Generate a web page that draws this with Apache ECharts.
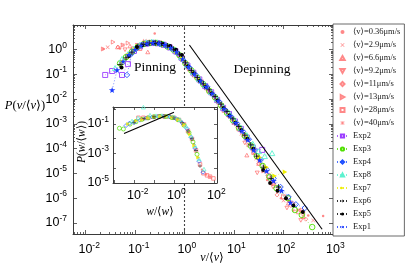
<!DOCTYPE html>
<html><head><meta charset="utf-8">
<script src="https://cdn.jsdelivr.net/npm/echarts@6/dist/echarts.min.js"></script>
<style>html,body{margin:0;padding:0;background:#fff}#c{width:415px;height:267px}</style>
</head><body><div id="c"></div>
<script>
// All values are decimal exponents (log10).
// ---- main panel: P(v/<v>) vs v/<v> ----
const xTicksMain = [-2, -1, 0, 1, 2, 3];
const yTicksMain = [-7, -6, -5, -4, -3, -2, -1, 0];
const xTicksInset = [-2, 0, 2];
const yTicksInset = [-5, -3, -1];

// red series <v>=...
const r036_x = [-1.64,-1.3,-1.0,-0.6,-0.4,-0.1,0.2,0.5,0.8,1.1,1.4,1.67,1.95,2.2,2.5,2.8];
const r036_y = [0.03,0.05,0.1,0.66,0.22,-0.25,-1.0,-1.7,-2.45,-3.2,-4.2,-5.27,-6.0,-6.5,-6.7,-6.72];
const r29_x = [-1.55,-1.25,-0.95,-0.8,-0.55,-0.3,-0.05,0.25,0.55,0.85,1.15,1.45,1.75,2.0,2.3,2.6];
const r29_y = [0.1,0.19,0.2,0.36,0.3,0.05,-0.4,-1.1,-1.8,-2.55,-3.4,-4.4,-5.4,-6.1,-6.5,-6.9];
const r66_x = [-1.35,-1.1,-0.74,-0.6,-0.35,-0.1,0.15,0.45,0.75,1.05,1.26,1.5,1.8,2.1,2.4];
const r66_y = [0.11,0.15,-0.09,0.28,0.15,-0.22,-0.85,-1.55,-2.25,-3.0,-4.26,-4.6,-5.4,-6.2,-6.75];
const r92_x = [-1.2,-0.95,-0.65,-0.45,-0.2,0.05,0.35,0.65,0.95,1.22,1.47,1.79,2.07,2.35];
const r92_y = [0.0,0.18,0.3,0.24,-0.02,-0.6,-1.3,-2.0,-2.8,-3.77,-4.98,-5.55,-6.4,-6.9];
const r11_x = [-1.34,-1.05,-0.85,-0.55,-0.25,0.0,0.3,0.6,0.9,1.2,1.5,1.87,2.15,2.45];
const r11_y = [0.11,0.05,0.25,0.29,0.08,-0.48,-1.25,-1.95,-2.7,-3.5,-4.6,-5.87,-6.3,-6.85];
const r13_x = [-1.64,-1.44,-1.24,-1.14,-0.8,-0.5,-0.15,0.1,0.4,0.7,1.0,1.3,1.6,1.9,2.2,2.37];
const r13_y = [0.03,0.31,0.19,0.27,0.3,0.3,-0.1,-0.78,-1.45,-2.15,-2.95,-3.85,-4.9,-5.7,-6.2,-6.48];
const r28_x = [-1.15,-0.9,-0.7,-0.5,-0.3,-0.05,0.2,0.5,0.8,1.1,1.4,1.7,2.0,2.3];
const r28_y = [-0.25,0.05,0.3,0.27,0.12,-0.35,-1.02,-1.68,-2.45,-3.2,-4.15,-5.1,-5.95,-6.55];
const r40_x = [-1.0,-0.8,-0.6,-0.4,-0.2,0.05,0.3,0.6,0.9,1.2,1.5,1.8,2.1,2.4];
const r40_y = [-0.02,0.22,0.3,0.2,-0.05,-0.62,-1.25,-1.9,-2.65,-3.45,-4.45,-5.35,-6.1,-6.6];

// experiments
const exp2_x = [-1.6,-1.46,-1.26,-1.14,-1.02,-0.9,-0.78,-0.66,-0.54,-0.42,-0.3,-0.18,-0.06,0.06,0.18,0.3,0.42,0.54,0.66,0.78,0.9,1.02,1.14,1.26,1.38,1.57];
const exp2_y = [-1.02,-0.86,-1.02,-0.58,-0.05,0.14,0.24,0.27,0.26,0.2,0.1,-0.06,-0.32,-0.64,-0.93,-1.2,-1.47,-1.72,-2.03,-2.35,-2.6,-2.9,-3.2,-3.55,-3.95,-4.05];
const exp3_x = [-1.3,-1.18,-1.06,-0.94,-0.82,-0.7,-0.58,-0.46,-0.34,-0.22,-0.1,0.02,0.14,0.26,0.38,0.5,0.62,0.74,0.86,0.98,1.1,1.22,1.34,1.46,1.58,1.72,1.86,2.09,2.23,2.37,2.58];
const exp3_y = [-0.55,-0.3,-0.08,0.12,0.23,0.27,0.28,0.23,0.13,0.0,-0.22,-0.55,-0.84,-1.13,-1.39,-1.66,-1.93,-2.25,-2.55,-2.85,-3.15,-3.48,-3.88,-4.3,-4.7,-5.15,-5.6,-6.0,-6.48,-6.68,-7.17];
const exp4_x = [-1.16,-1.06,-0.96,-0.86,-0.74,-0.62,-0.5,-0.38,-0.26,-0.14,-0.02,0.1,0.22,0.34,0.46,0.58,0.7,0.82,0.94,1.06,1.18,1.3,1.42,1.54,1.66,1.8,1.94,2.1,2.25,2.43];
const exp4_y = [-1.02,-0.15,0.06,0.2,0.26,0.29,0.24,0.17,0.05,-0.14,-0.43,-0.72,-1.0,-1.3,-1.5,-1.82,-2.1,-2.43,-2.7,-2.98,-3.3,-3.62,-4.05,-4.45,-4.85,-5.2,-5.55,-5.95,-6.25,-6.4];
const exp8_x = [-1.4,-1.26,-1.14,-1.02,-0.9,-0.78,-0.66,-0.54,-0.42,-0.3,-0.18,-0.06,0.06,0.18,0.3,0.42,0.54,0.66,0.78,0.9,1.02,1.14,1.26,1.38,1.5,1.62,1.77];
const exp8_y = [-0.74,-0.37,-0.18,0.05,0.2,0.3,0.33,0.3,0.24,0.14,0.0,-0.3,-0.62,-0.9,-1.18,-1.42,-1.7,-1.98,-2.3,-2.55,-2.85,-3.15,-3.45,-3.8,-4.1,-4.3,-4.18];
const exp7_x = [-1.24,-1.12,-1.0,-0.88,-0.76,-0.64,-0.52,-0.4,-0.28,-0.16,-0.04,0.08,0.2,0.32,0.44,0.56,0.68,0.8,0.92,1.04,1.16,1.28,1.4,1.52,1.66,1.82,2.03];
const exp7_y = [-0.5,-0.22,0.0,0.15,0.25,0.28,0.25,0.19,0.09,-0.08,-0.36,-0.68,-0.96,-1.24,-1.48,-1.75,-2.07,-2.36,-2.66,-2.92,-3.22,-3.58,-3.98,-4.35,-4.75,-5.1,-4.94];
const exp6_x = [-1.3,-1.18,-1.06,-0.94,-0.82,-0.7,-0.58,-0.46,-0.34,-0.22,-0.1,0.02,0.14,0.26,0.38,0.5,0.62,0.74,0.86,0.98,1.1,1.22,1.34,1.46,1.6,1.75,1.9];
const exp6_y = [-0.6,-0.33,-0.1,0.12,0.22,0.27,0.27,0.24,0.16,0.02,-0.18,-0.53,-0.83,-1.13,-1.38,-1.62,-1.9,-2.2,-2.5,-2.8,-3.1,-3.45,-3.85,-4.3,-4.75,-5.2,-5.55];
const exp5_x = [-1.27,-1.12,-0.96,-0.86,-0.76,-0.63,-0.53,-0.43,-0.29,-0.17,-0.05,0.07,0.19,0.31,0.43,0.55,0.67,0.79,0.91,1.03,1.15,1.27,1.39,1.59,1.73,1.88,2.05,2.2,2.39];
const exp5_y = [-0.72,-0.25,0.11,0.18,0.23,0.27,0.26,0.23,0.15,0.0,-0.21,-0.67,-0.95,-1.25,-1.5,-1.76,-2.05,-2.36,-2.66,-2.95,-3.25,-3.6,-4.0,-4.86,-5.39,-5.7,-6.0,-6.3,-6.56];
const exp1_x = [-1.46,-1.36,-1.24,-1.12,-1.0,-0.88,-0.76,-0.64,-0.52,-0.4,-0.28,-0.16,-0.04,0.08,0.2,0.32,0.44,0.56,0.68,0.8,0.92,1.04,1.16,1.28,1.4,1.52,1.66,1.8,1.96,2.14];
const exp1_y = [-1.63,-0.82,-0.47,-0.2,0.0,0.17,0.25,0.28,0.26,0.2,0.08,-0.09,-0.37,-0.69,-0.98,-1.26,-1.5,-1.77,-2.07,-2.38,-2.67,-2.95,-3.27,-3.64,-4.05,-4.46,-4.9,-5.3,-5.7,-6.18];

// power-law guide in the main panel (end points)
const fitMain_x = [0.1, 2.78];
const fitMain_y = [0.19, -7.26];

// ---- inset: P(w/<w>) vs w/<w> ----
const in3_x = [-2.73,-2.53,-2.2,-1.9,-1.6,-1.3,-1.0,-0.7,-0.4,-0.1,0.2,0.5,0.75,0.95,1.15];
const in3_y = [-1.29,-1.34,-1.01,-0.85,-0.69,-0.59,-0.51,-0.48,-0.5,-0.57,-0.71,-1.09,-1.59,-2.22,-3.06];
const in4_x = [-2.4,-2.23,-2.0,-1.7,-1.4,-1.1,-0.8,-0.5,-0.2,0.1,0.4,0.65,0.85,1.05,1.25,1.45];
const in4_y = [-1.11,-0.95,-0.9,-0.74,-0.61,-0.53,-0.5,-0.48,-0.53,-0.64,-0.92,-1.32,-1.9,-2.64,-3.53,-4.27];
const in8_x = [-2.1,-1.8,-1.53,-1.2,-0.9,-0.6,-0.3,0.0,0.3,0.6,0.85,1.05,1.25,1.5];
const in8_y = [-0.8,-0.59,0.14,-0.4,-0.44,-0.43,-0.46,-0.52,-0.71,-1.16,-1.8,-2.48,-3.37,-4.06];
const in7_x = [-2.3,-1.9,-1.6,-1.3,-1.0,-0.7,-0.4,-0.1,0.2,0.5,0.8,1.0,1.2];
const in7_y = [-1.01,-0.8,-0.73,-0.59,-0.52,-0.49,-0.5,-0.57,-0.71,-1.06,-1.72,-2.48,-3.27];
const in6_x = [-2.0,-1.5,-1.0,-0.5,0.0,0.4,0.7,0.9,1.1,1.3];
const in6_y = [-0.9,-0.65,-0.52,-0.49,-0.59,-0.9,-1.48,-2.01,-2.79,-3.85];
const inR28_x = [-1.78,-1.53,-1.28,-1.0,-0.75,-0.5,-0.25,0.0,0.25,0.5,0.7,0.9,1.1,1.3,1.47,1.65,1.8,1.97];
const inR28_y = [-0.58,-0.58,-0.58,-0.52,-0.49,-0.48,-0.5,-0.58,-0.73,-1.03,-1.48,-2.01,-2.79,-3.74,-4.34,-4.48,-4.57,-4.69];
const inR036_x = [-1.9,-1.6,-1.3,-1.0,-0.7,-0.4,-0.1,0.2,0.5,0.75,1.0,1.2,1.4,1.6,1.8];
const inR036_y = [-0.74,-0.67,-0.56,-0.52,-0.49,-0.49,-0.55,-0.69,-1.03,-1.59,-2.37,-3.27,-4.11,-4.42,-4.58];
const fitInset_x = [-2.5, 0.0];
const fitInset_y = [-1.64, -0.21];

// ---------------- rendering ----------------
const SYM = {
  sq: 'path://M0,0H10V10H0Z',
  tu: 'path://M5,0L10,9L0,9Z',
  td: 'path://M0,0L10,0L5,9Z',
  tr: 'path://M0,0L9,5L0,10Z',
  di: 'path://M5,0L10,5L5,10L0,5Z',
  plus: 'path://M4.3,0H5.7V4.3H10V5.7H5.7V10H4.3V5.7H0V4.3H4.3Z',
  x: 'path://M1,0L5,4L9,0L10,1L6,5L10,9L9,10L5,6L1,10L0,9L4,5L0,1Z',
  ast: 'path://M4.4,0H5.6V10H4.4Z M0,4.4H10V5.6H0Z M1,0.2L9.8,9L9,9.8L0.2,1Z M9,0.2L9.8,1L1,9.8L0.2,9Z',
  star: 'path://M50,0L61.8,35.1L98.9,35.1L68.9,56.7L80.3,91.9L50,70.2L19.7,91.9L31.1,56.7L1.1,35.1L38.2,35.1Z'
};
const RED = '#ff6a6a';
const NONE = 'rgba(255,255,255,0)';
const pairs = (xs, ys) => xs.map((v, i) => [v, ys[i]]);

const redDefs = [
  ['⟨v⟩=0.36μm/s', r036_x, r036_y, 'circle', 2.5, true],
  ['⟨v⟩=2.9μm/s', r29_x, r29_y, SYM.x, 4, true],
  ['⟨v⟩=6.6μm/s', r66_x, r66_y, SYM.tu, 4, false],
  ['⟨v⟩=9.2μm/s', r92_x, r92_y, SYM.td, 4, false],
  ['⟨v⟩=11μm/s', r11_x, r11_y, SYM.di, 4, false],
  ['⟨v⟩=13μm/s', r13_x, r13_y, SYM.tr, 4, false],
  ['⟨v⟩=28μm/s', r28_x, r28_y, SYM.sq, 4, false],
  ['⟨v⟩=40μm/s', r40_x, r40_y, SYM.ast, 4.5, true]
];
const expDefs = [
  ['Exp2', exp2_x, exp2_y, SYM.sq, 5, '#9b3cff', false],
  ['Exp3', exp3_x, exp3_y, 'circle', 5.5, '#4fe000', false],
  ['Exp4', exp4_x, exp4_y, SYM.di, 5.5, '#1f4fff', false],
  ['Exp8', exp8_x, exp8_y, SYM.tu, 5.5, '#5cf2cf', false],
  ['Exp7', exp7_x, exp7_y, SYM.tr, 5, '#eeee00', true],
  ['Exp6', exp6_x, exp6_y, SYM.plus, 5.5, '#000000', true],
  ['Exp5', exp5_x, exp5_y, 'circle', 4, '#000000', true],
  ['Exp1', exp1_x, exp1_y, SYM.star, 6.5, '#1a3aff', true]
];

function markerStyle(color, filled) {
  return filled ? {color: color, borderWidth: 0}
                : {color: NONE, borderColor: color, borderWidth: 0.9};
}

const series = [];
redDefs.forEach(d => {
  series.push({
    type: 'scatter', name: d[0], xAxisIndex: 0, yAxisIndex: 0,
    data: pairs(d[1], d[2]), symbol: d[3], symbolSize: d[4], symbolKeepAspect: true,
    itemStyle: markerStyle(RED, d[5]), emphasis: {disabled: true}, silent: true, z: 2
  });
});
expDefs.forEach(d => {
  series.push({
    type: 'line', name: d[0], xAxisIndex: 0, yAxisIndex: 0,
    data: pairs(d[1], d[2]), symbol: d[3], symbolSize: d[4], showSymbol: true, symbolKeepAspect: true,
    itemStyle: markerStyle(d[5], d[6]),
    lineStyle: {color: d[5], width: 0.7, type: [1, 2], opacity: 0.8},
    emphasis: {disabled: true}, silent: true, z: 2
  });
});
// dashed x = 1 line and the power-law guide
series.push({
  type: 'line', name: 'fitMain', xAxisIndex: 0, yAxisIndex: 0,
  data: pairs(fitMain_x, fitMain_y), showSymbol: false, symbol: 'none',
  lineStyle: {color: '#000', width: 1.1}, silent: true, z: 3,
  markLine: {silent: true, symbol: 'none', label: {show: false},
    lineStyle: {color: '#444', type: [2, 2], width: 1.1}, data: [{xAxis: 0}]}
});
// inset series
const insetDefs = [
  ['⟨v⟩=0.36μm/s', inR036_x, inR036_y, 'circle', 2.5, RED, true],
  ['⟨v⟩=28μm/s', inR28_x, inR28_y, SYM.sq, 3.5, RED, false],
  ['Exp3', in3_x, in3_y, 'circle', 4, '#4fe000', false],
  ['Exp4', in4_x, in4_y, SYM.di, 4, '#1f4fff', false],
  ['Exp8', in8_x, in8_y, SYM.tu, 4, '#5cf2cf', false],
  ['Exp7', in7_x, in7_y, SYM.tr, 4, '#eeee00', true],
  ['Exp6', in6_x, in6_y, SYM.plus, 4, '#000000', true]
];
insetDefs.forEach(d => {
  series.push({
    type: 'scatter', name: d[0], xAxisIndex: 4, yAxisIndex: 4,
    data: pairs(d[1], d[2]), symbol: d[3], symbolSize: d[4], symbolKeepAspect: true,
    itemStyle: markerStyle(d[5], d[6]), emphasis: {disabled: true}, silent: true, z: 12
  });
});
series.push({
  type: 'line', name: 'fitInset', xAxisIndex: 4, yAxisIndex: 4,
  data: pairs(fitInset_x, fitInset_y), showSymbol: false, symbol: 'none',
  lineStyle: {color: '#000', width: 1.1}, silent: true, z: 13
});

const AX = '#3a3a3a';
const FONT = 'Liberation Sans, Arial, sans-serif';
const rich = {
  b: {fontSize: 12.5, fontFamily: FONT, color: '#000', lineHeight: 18},
  s: {fontSize: 8.5, fontFamily: FONT, color: '#000', verticalAlign: 'top', lineHeight: 9},
  h: {fontSize: 8.5, fontFamily: FONT, color: 'rgba(0,0,0,0)', verticalAlign: 'top', lineHeight: 9}
};
const fmtX = v => { const e = String(Math.round(v)); return '{h|' + e + '}{b|10}{s|' + e + '}'; };
const fmtY = v => '{b|10}{s|' + Math.round(v) + '}';

const minorLog = [];
for (let e = -4; e < 3; e++) for (let k = 2; k < 10; k++) minorLog.push(+(e + Math.log10(k)).toFixed(4));
const intTicks = [];
for (let e = -8; e <= 3; e++) intTicks.push(e);

function tickAxis(base, pos, vals, len, showLine) {
  return Object.assign({}, base, {
    position: pos, axisLine: {show: showLine, onZero: false, lineStyle: {color: AX, width: 1}},
    axisTick: {show: true, inside: true, length: len, lineStyle: {color: AX, width: 0.8}, customValues: vals},
    axisLabel: {show: false}, splitLine: {show: false}
  });
}
const xMainBase = {type: 'value', gridIndex: 0, min: -2.25, max: 3};
const yMainBase = {type: 'value', gridIndex: 0, min: -7.45, max: 1.0};
const xInBase = {type: 'value', gridIndex: 1, min: -3.05, max: 2.15, z: 11};
const yInBase = {type: 'value', gridIndex: 1, min: -5, max: 0.15, z: 11};

const xAxis = [
  Object.assign(tickAxis(xMainBase, 'bottom', intTicks, 4, true), {
    axisLabel: {show: true, customValues: xTicksMain, formatter: fmtX, rich: rich, margin: 7}
  }),
  tickAxis(xMainBase, 'top', intTicks, 4, true),
  tickAxis(xMainBase, 'bottom', minorLog, 2, false),
  tickAxis(xMainBase, 'top', minorLog, 2, false),
  Object.assign(tickAxis(xInBase, 'bottom', intTicks, 3, true), {
    axisLabel: {show: true, customValues: xTicksInset, formatter: fmtX, rich: rich, margin: 4}
  }),
  tickAxis(xInBase, 'top', intTicks, 3, true)
];
const yAxis = [
  Object.assign(tickAxis(yMainBase, 'left', intTicks, 4, true), {
    axisLabel: {show: true, customValues: yTicksMain, formatter: fmtY, rich: rich, margin: 6}
  }),
  tickAxis(yMainBase, 'right', intTicks, 4, true),
  tickAxis(yMainBase, 'left', minorLog, 2, false),
  tickAxis(yMainBase, 'right', minorLog, 2, false),
  Object.assign(tickAxis(yInBase, 'left', intTicks, 3, true), {
    axisLabel: {show: true, customValues: yTicksInset, formatter: fmtY, rich: rich, margin: 4}
  }),
  tickAxis(yInBase, 'right', intTicks, 3, true)
];

const SERIF = 'Liberation Serif, DejaVu Serif, serif';
const legendNames = redDefs.map(d => d[0]).concat(expDefs.map(d => d[0]));

const option = {
  animation: false,
  backgroundColor: '#fff',
  grid: [
    {left: 73, top: 25, width: 260, height: 209, show: false},
    {left: 113, top: 107, width: 104, height: 76, show: true, backgroundColor: '#fff', borderWidth: 0, z: 10}
  ],
  xAxis: xAxis,
  yAxis: yAxis,
  legend: {
    data: legendNames, orient: 'vertical', left: 333, top: 24,
    itemWidth: 11, itemHeight: 4, itemGap: 4,
    padding: [3.5, 4, 4.5, 3], borderColor: '#444', borderWidth: 0.8, backgroundColor: '#fff',
    selectedMode: false,
    textStyle: {fontFamily: SERIF, fontSize: 8.5, lineHeight: 9, color: '#222'}
  },
  graphic: [
    {type: 'text', x: 155, y: 67, style: {text: 'Pinning', font: '13.5px ' + SERIF, fill: '#000', align: 'center', verticalAlign: 'middle', textAlign: 'center', textVerticalAlign: 'middle'}},
    {type: 'text', x: 262, y: 69, style: {text: 'Depinning', font: '13.5px ' + SERIF, fill: '#000', align: 'center', verticalAlign: 'middle', textAlign: 'center', textVerticalAlign: 'middle'}},
    {type: 'text', x: 212, y: 258, style: {text: '{i|v}/⟨{i|v}⟩', font: '12px ' + SERIF, fill: '#000', align: 'center', verticalAlign: 'middle', textAlign: 'center', textVerticalAlign: 'middle',
      rich: {i: {fontStyle: 'italic', fontFamily: SERIF, fontSize: 12}}}},
    {type: 'text', x: 25, y: 106, style: {text: '{i|P}({i|v}/⟨{i|v}⟩)', font: '12.5px ' + SERIF, fill: '#000', align: 'center', verticalAlign: 'middle', textAlign: 'center', textVerticalAlign: 'middle',
      rich: {i: {fontStyle: 'italic', fontFamily: SERIF, fontSize: 12.5}}}},
    {type: 'text', x: 160, y: 212, z: 20, style: {text: '{i|w}/⟨{i|w}⟩', font: '11.5px ' + SERIF, fill: '#000', align: 'center', verticalAlign: 'middle', textAlign: 'center', textVerticalAlign: 'middle',
      rich: {i: {fontStyle: 'italic', fontFamily: SERIF, fontSize: 11.5}}}},
    {type: 'text', x: 82, y: 142, rotation: Math.PI / 2, z: 20, style: {text: '{i|P}({i|w}/⟨{i|w}⟩)', font: '11.5px ' + SERIF, fill: '#000', align: 'center', verticalAlign: 'middle', textAlign: 'center', textVerticalAlign: 'middle',
      rich: {i: {fontStyle: 'italic', fontFamily: SERIF, fontSize: 11.5}}}}
  ],
  series: series
};
const chart = echarts.init(document.getElementById('c'), null, {renderer: 'canvas'});
chart.setOption(option);
</script></body></html>
